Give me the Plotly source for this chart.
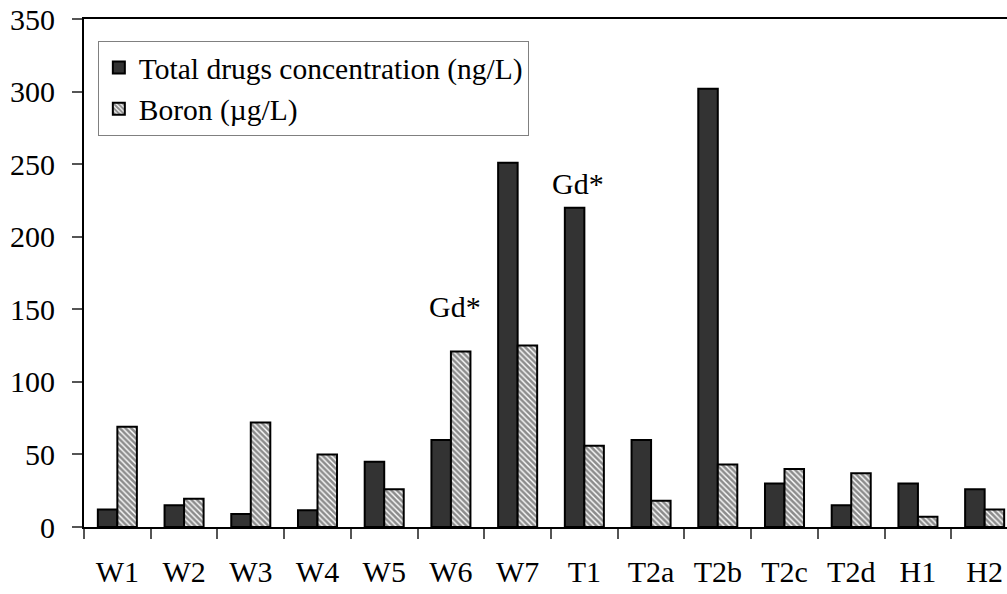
import plotly.graph_objects as go

categories = ["W1", "W2", "W3", "W4", "W5", "W6", "W7", "T1", "T2a", "T2b", "T2c", "T2d", "H1", "H2"]
total_drugs = [12, 15, 9, 11.5, 45, 60, 251, 220, 60, 302, 30, 15, 30, 26]
boron = [69, 19.5, 72, 50, 26, 121, 125, 56, 18, 43, 40, 37, 7, 12]
y_ticks = [0, 50, 100, 150, 200, 250, 300, 350]
notes = [("W6", 152, "Gd*", 4), ("T1", 237, "Gd*", -6)]

FONT = "Liberation Serif, Times New Roman, serif"
FS = 30

fig = go.Figure()
fig.add_trace(go.Bar(
    x=categories, y=total_drugs, name="Total drugs concentration (ng/L)",
    marker=dict(color="#333333", line=dict(color="black", width=2)),
))
fig.add_trace(go.Bar(
    x=categories, y=boron, name="Boron (\u00b5g/L)",
    marker=dict(color="white", line=dict(color="black", width=2),
                pattern=dict(shape="\\", fgcolor="#1a1a1a", bgcolor="white",
                             size=4, solidity=0.65)),
))

for cat, yv, txt, xs in notes:
    fig.add_annotation(x=cat, y=yv, text=txt, showarrow=False, xshift=xs,
                       font=dict(family=FONT, size=FS, color="black"))

n = len(categories)
fig.update_layout(
    width=1007, height=594,
    margin=dict(l=84, r=0, t=19, b=67, autoexpand=False),
    paper_bgcolor="white", plot_bgcolor="white",
    font=dict(family=FONT, size=FS, color="black"),
    barmode="group", bargap=0.415, bargroupgap=0,
    showlegend=True,
    legend=dict(x=0.015, y=0.957, xanchor="left", yanchor="top",
                bordercolor="#808080", borderwidth=1, bgcolor="white",
                font=dict(family=FONT, size=29.5, color="black"),
                tracegroupgap=0),
    xaxis=dict(type="category", range=[-0.5, n - 0.5 - 11 / 66.7], automargin=False,
               showline=True, linecolor="black", linewidth=2, mirror=True,
               ticks="outside", tickson="boundaries", ticklen=10, tickcolor="#555555",
               tickwidth=2, showgrid=False, ticklabelstandoff=17,
               ticklabeloverflow="allow"),
    yaxis=dict(range=[0, 350], tickvals=y_ticks, showline=True, linecolor="black",
               linewidth=2, ticks="outside", ticklen=10, tickcolor="#555555", tickwidth=2,
               showgrid=False, zeroline=False, ticklabelstandoff=11, automargin=False,
               ticklabeloverflow="allow"),
)

fig.write_html("out.html", config={"displayModeBar": False},
               post_script="document.body.style.margin='0';document.body.style.overflow='hidden';")
